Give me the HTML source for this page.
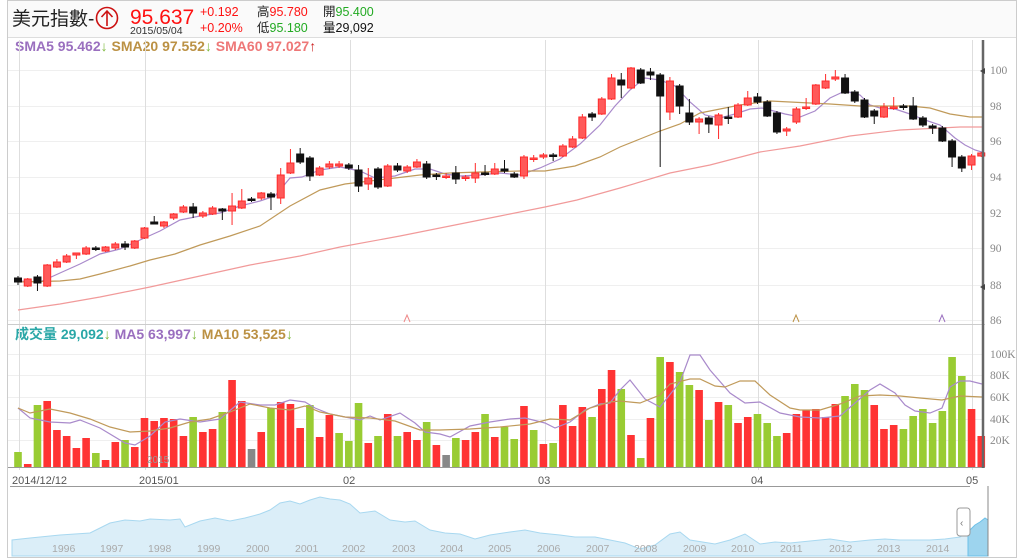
<!DOCTYPE html>
<html><head><meta charset="utf-8"><style>
body{margin:0;width:1024px;height:560px;background:#fff;overflow:hidden;font-family:"Liberation Sans","Noto Sans CJK TC",sans-serif}
svg{position:absolute;left:0;top:0}
</style></head><body>
<svg id="s" width="1024" height="560" xmlns="http://www.w3.org/2000/svg" font-family="Liberation Sans, Noto Sans CJK TC, sans-serif">
<rect x="0" y="0" width="1024" height="560" fill="#fff"/>
<rect x="7.5" y="0.5" width="1009" height="557" fill="none" stroke="#ccc"/>
<rect x="8" y="1" width="1008" height="36" fill="#fafafa"/>
<line x1="8" y1="37.5" x2="1016" y2="37.5" stroke="#ddd"/>
<text x="12" y="25" font-size="19" fill="#222">美元指數-</text>
<circle cx="107" cy="18" r="10.5" fill="none" stroke="#cc1111" stroke-width="1.6"/>
<path d="M107 11 L107 26 M101.5 17 L107 11 L112.5 17" fill="none" stroke="#cc1111" stroke-width="1.6"/>
<text x="130" y="24" font-size="21" fill="#ff1111">95.637</text>
<text x="130" y="34" font-size="10.5" fill="#333">2015/05/04</text>
<text x="200" y="16" font-size="12.5" fill="#ff1111">+0.192</text>
<text x="200" y="32" font-size="12.5" fill="#ff1111">+0.20%</text>
<text x="257" y="16" font-size="12.5" fill="#222">高<tspan fill="#ff1111">95.780</tspan></text>
<text x="257" y="32" font-size="12.5" fill="#222">低<tspan fill="#22aa22">95.180</tspan></text>
<text x="323" y="16" font-size="12.5" fill="#222">開<tspan fill="#22aa22">95.400</tspan></text>
<text x="323" y="32" font-size="12.5" fill="#111">量29,092</text>
<text x="15" y="51" font-size="14" font-weight="bold"><tspan fill="#9a6fbf">SMA5 95.462</tspan><tspan fill="#7cb83a" font-weight="normal">↓</tspan><tspan fill="#bb9144"> SMA20 97.552</tspan><tspan fill="#7cb83a" font-weight="normal">↓</tspan><tspan fill="#ee7777"> SMA60 97.027</tspan><tspan fill="#cc2222" font-weight="normal">↑</tspan></text>
<text x="15" y="339" font-size="14" font-weight="bold"><tspan fill="#2aa7a7">成交量 29,092</tspan><tspan fill="#7cb83a" font-weight="normal">↓</tspan><tspan fill="#9a6fbf"> MA5 63,997</tspan><tspan fill="#7cb83a" font-weight="normal">↓</tspan><tspan fill="#bb9144"> MA10 53,525</tspan><tspan fill="#7cb83a" font-weight="normal">↓</tspan></text>
<g id="grid" stroke="#efefef" stroke-width="1"></g>
<g id="vgrid" stroke="#dedede" stroke-width="1">
<line x1="19.5" y1="40" x2="19.5" y2="470"/><line x1="145.5" y1="40" x2="145.5" y2="470"/><line x1="350.5" y1="40" x2="350.5" y2="470"/><line x1="545.5" y1="40" x2="545.5" y2="470"/><line x1="758.5" y1="40" x2="758.5" y2="470"/><line x1="972.5" y1="40" x2="972.5" y2="470"/>
</g>
<line x1="8" y1="324.5" x2="985" y2="324.5" stroke="#ccc"/>
<line x1="8" y1="467.5" x2="985" y2="467.5" stroke="#999"/>
<g id="vol"></g>
<g id="lines" fill="none" stroke-width="1.2"></g>
<g id="cand"></g>
<line x1="983" y1="40" x2="983" y2="468" stroke="#666" stroke-width="2.5"/>
<g font-size="11.5" fill="#888" font-family="Liberation Serif, serif">
<text x="990" y="74">100</text><text x="990" y="110">98</text><text x="990" y="145">96</text><text x="990" y="181">94</text><text x="990" y="217">92</text><text x="990" y="252">90</text><text x="990" y="289">88</text><text x="990" y="324">86</text>
<text x="990" y="358">100K</text><text x="990" y="379">80K</text><text x="990" y="401">60K</text><text x="990" y="423">40K</text><text x="990" y="444">20K</text>
</g>
<path d="M985 68 l-5 3 l5 3z M985 284 l-5 3 l5 3z" fill="#444"/>
<path d="M404 322 l3 -7 l3 7" fill="none" stroke="#ee8888"/>
<path d="M793 322 l3 -7 l3 7" fill="none" stroke="#bb9144"/>
<path d="M939 322 l3 -7 l3 7" fill="none" stroke="#9a6fbf"/>
<text x="147" y="463" font-size="10" fill="#999">2015</text>
<g font-size="11" fill="#555">
<text x="12" y="484">2014/12/12</text><text x="139" y="484">2015/01</text><text x="343" y="484">02</text><text x="538" y="484">03</text><text x="751" y="484">04</text><text x="966" y="484">05</text>
</g>
<line x1="10" y1="486.5" x2="970" y2="486.5" stroke="#999"/>
<g id="nav"></g>
<g font-size="10.5" fill="#aaa">
<text x="52" y="552">1996</text><text x="100" y="552">1997</text><text x="148" y="552">1998</text><text x="197" y="552">1999</text><text x="246" y="552">2000</text><text x="295" y="552">2001</text><text x="342" y="552">2002</text><text x="392" y="552">2003</text><text x="440" y="552">2004</text><text x="488" y="552">2005</text><text x="537" y="552">2006</text><text x="586" y="552">2007</text><text x="634" y="552">2008</text><text x="683" y="552">2009</text><text x="731" y="552">2010</text><text x="780" y="552">2011</text><text x="829" y="552">2012</text><text x="877" y="552">2013</text><text x="926" y="552">2014</text>
</g>
<rect x="957" y="508" width="13" height="28" rx="3" fill="#fff" stroke="#999"/>
<text x="960" y="526" font-size="10" fill="#777">‹</text>
<line x1="988" y1="486" x2="988" y2="556" stroke="#888"/>
</svg>
<script>
var NS="http://www.w3.org/2000/svg";
function el(p,t,a){var e=document.createElementNS(NS,t);for(var k in a)e.setAttribute(k,a[k]);document.getElementById(p).appendChild(e);return e;}
[70,106,141,177,213,248,285,320,354,375,397,419,440].forEach(function(y){el("grid","line",{x1:8,x2:983,y1:y+.5,y2:y+.5});});
function X(i){return 18+i*9.73;}
var C=[[278,282,276,285,'b'],[279,286,278,287,'r'],[277,283,275,291,'b'],[265,286,264,287,'r'],[262,267,259,268,'r'],[256,262,254,263,'r'],[253,255,253,259,'r'],[248,254,246,255,'r'],[248,249,246,251,'b'],[247,251,246,252,'r'],[244,248,242,250,'r'],[244,247,241,250,'b'],[241,248,240,249,'r'],[228,238,227,239,'r'],[222,224,216,224,'b'],[222,226,221,228,'r'],[214,218,213,220,'r'],[207,212,205,213,'r'],[207,213,203,218,'b'],[213,216,211,218,'r'],[208,214,206,215,'r'],[209,211,208,220,'b'],[206,211,193,225,'r'],[201,208,189,209,'r'],[199,200,197,202,'b'],[193,198,192,200,'r'],[194,197,192,210,'b'],[175,198,168,204,'r'],[163,173,149,174,'r'],[154,162,148,164,'b'],[158,176,156,181,'b'],[168,175,166,176,'r'],[164,167,161,169,'r'],
[164,166,161,168,'r'],[165,168,163,170,'b'],[170,186,165,192,'b'],[178,184,168,190,'r'],[169,187,167,189,'b'],[166,186,164,187,'r'],[166,170,163,172,'b'],[167,171,165,173,'r'],[162,167,159,168,'r'],[164,177,161,179,'b'],[175,176,173,180,'b'],[176,177,173,179,'r'],[173,179,166,184,'b'],[177,178,175,181,'r'],[173,178,163,183,'r'],[173,174,165,176,'b'],[169,174,163,175,'r'],[169,171,160,173,'b'],[174,177,172,178,'b'],[157,176,155,179,'r'],[158,159,155,162,'r'],[155,157,153,159,'r'],[155,156,153,161,'b'],[146,156,144,157,'r'],[139,147,136,148,'r'],[117,138,114,139,'r'],[114,117,112,121,'b'],[99,114,97,115,'r'],[78,99,74,100,'r'],[80,85,73,98,'b'],[68,88,67,89,'r'],[70,83,68,84,'b'],[72,75,68,80,'b'],[75,96,73,167,'b'],
[81,112,77,120,'r'],[86,106,84,114,'b'],[113,122,99,125,'b'],[119,122,117,134,'r'],[118,124,116,133,'b'],[115,125,113,139,'r'],[117,118,107,124,'b'],[105,117,103,118,'r'],[98,105,91,106,'r'],[97,102,93,104,'b'],[102,116,100,117,'b'],[113,132,111,134,'b'],[129,131,127,136,'r'],[109,122,107,124,'r'],[107,108,98,110,'r'],[85,104,84,105,'r'],[81,88,74,89,'r'],[77,79,70,81,'r'],[78,93,74,94,'b'],[92,101,90,103,'b'],[100,117,98,118,'b'],[111,116,109,124,'b'],[107,117,103,118,'r'],[107,108,97,110,'r'],[106,107,104,110,'b'],[106,119,97,120,'b'],[118,125,116,127,'b'],[126,128,124,134,'b'],[128,141,126,142,'b'],[141,157,139,167,'b'],[157,168,155,172,'b'],[156,165,154,170,'r'],[153,156,152,157,'r']];
C.forEach(function(c,i){var x=X(i),col=c[4]=='r'?'#ff2a2a':'#111',fill=c[4]=='r'?'#ff5a5a':'#111';
el("cand","line",{x1:x,x2:x,y1:c[2],y2:c[3],stroke:col,"stroke-width":1});
el("cand","rect",{x:x-3.5,y:c[0],width:7,height:Math.max(1.5,c[1]-c[0]),fill:fill,stroke:col,"stroke-width":1});});
var V="g452 r464 g405 r401 r430 r436 r448 r438 g453 r460 r442 g440 r447 r418 r421 r418 r419 r436 g417 r432 r429 g412 r380 r401 k449 r432 g408 r402 r404 r428 g405 r437 r415 g433 g441 g403 r443 g436 r414 g436 r432 r440 g422 r445 k455 g438 r440 r432 g414 r437 g427 g439 r406 g430 r444 g443 r405 r426 r407 g417 r389 r370 g389 r435 g458 r418 g357 r362 g372 g385 r390 g420 r402 g405 r423 r417 g414 g423 g436 r433 r414 r410 r409 r417 r404 g396 g384 g390 r405 r429 r425 g429 g416 g409 g423 g411 g357 g376 r409 r436".split(" ");
V.forEach(function(v,i){var y=+v.slice(1),c={g:'#99cc33',r:'#ff3333',k:'#888'}[v[0]];el("vol","rect",{x:X(i)-3.8,y:y,width:7.6,height:467-y,fill:c});});
function pl(pts,col){el("lines","polyline",{points:pts,stroke:col});}
pl("18,408 30,418 50,422 70,423 80,420 100,428 125,443 135,445 150,436 165,422 180,419 200,422 220,419 240,402 260,405 275,405 290,400 305,402 315,408 330,414 340,416 360,420 370,416 380,420 400,413 415,423 425,432 440,434 450,437 470,426 490,422 510,419 525,418 545,423 555,428 570,422 585,410 600,404 610,403 620,390 630,380 645,399 660,407 680,382 690,355 700,355 710,370 730,393 745,403 760,402 780,413 800,417 820,418 840,416 855,403 870,390 880,384 895,393 905,405 915,411 930,413 942,408 950,387 960,381 970,381 982,384","#a98acb");
pl("18,408 30,413 50,409 70,413 90,419 110,427 130,432 150,431 170,428 190,422 210,419 230,412 250,404 270,408 290,410 305,406 320,412 345,417 370,418 395,421 420,430 440,430 470,429 500,427 530,424 550,419 570,420 590,408 610,402 620,401 640,403 660,395 670,384 690,379 700,379 715,386 725,387 740,381 755,381 770,395 790,408 800,410 820,410 840,404 860,396 880,395 900,396 920,398 942,400 960,396 982,397","#c09a5a");
pl("18,281 40,282 60,273 80,264 100,254 120,249 140,240 160,231 180,220 200,216 220,213 240,206 260,201 275,196 290,178 302,177 320,170 340,167 360,171 375,178 395,176 415,169 430,169 445,174 460,176 480,175 500,173 520,175 540,168 560,159 580,144 600,125 615,106 630,90 645,78 660,80 675,86 690,102 705,115 720,118 735,114 750,109 762,108 770,110 785,114 800,117 815,111 830,98 845,91 860,95 870,105 880,108 895,109 910,114 925,120 940,125 955,138 965,145 975,150 985,153","#a98acb");
pl("18,282 60,281 80,279 100,274 130,266 150,260 175,254 200,245 230,236 260,226 290,206 320,190 345,184 370,181 395,178 420,175 450,173 480,172 520,171 545,171 575,166 600,157 620,147 640,139 660,131 680,124 700,113 720,109 740,105 770,101 790,102 810,103 830,104 860,106 890,106 910,106 930,108 950,114 970,117 983,117","#c09a5a");
pl("18,310 60,304 100,297 150,287 200,276 250,265 300,256 340,247 400,236 450,226 500,216 545,207 577,200 620,188 670,173 710,165 760,152 800,146 850,136 900,130 960,127 983,127","#f19a9a");
var N="12,540 30,538 60,535 90,533 100,528 110,523 125,520 140,521 150,519 170,520 180,519 185,527 200,521 215,518 230,521 245,518 260,514 270,510 280,503 290,501 300,504 310,500 320,497 330,499 340,500 350,504 360,513 375,511 390,520 405,522 415,521 430,530 445,533 460,534 475,539 490,535 510,532 525,530 540,533 560,535 575,537 595,537 610,540 625,543 640,549 655,545 670,534 680,532 690,540 715,544 730,540 745,534 760,544 775,542 790,543 810,541 830,539 850,542 870,540 885,539 900,540 930,540 945,539 960,537 968,532";
el("nav","path",{d:"M12,556 L"+N.replace(/ /g," L")+" L968,556Z",fill:"#dbeef8",stroke:"#a8d8f0","stroke-width":1});
el("nav","path",{d:"M968,556 L968,532 975,525 980,522 985,518 988,520 L988,556Z",fill:"#9dd4ee",stroke:"#6cc0e8","stroke-width":1});
</script>
</body></html>
